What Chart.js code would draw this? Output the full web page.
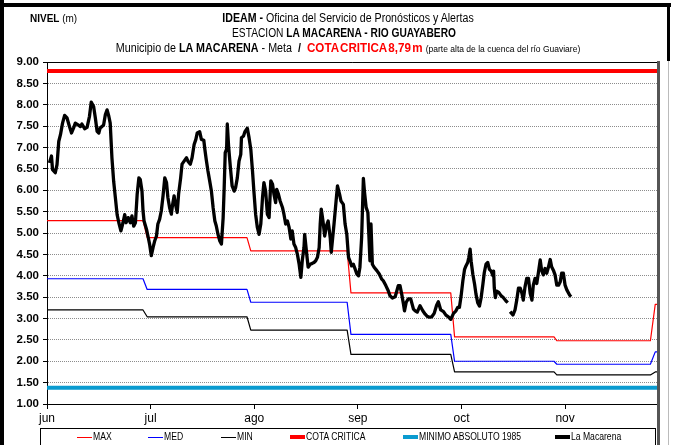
<!DOCTYPE html>
<html>
<head>
<meta charset="utf-8">
<script src="https://cdn.jsdelivr.net/npm/chart.js@4.4.1/dist/chart.umd.min.js"></script>
<style>
  body { margin: 0; background: #fff; }
  #wrap { position: relative; width: 677px; height: 445px; overflow: hidden;
    font-family: "Liberation Sans", Arial, sans-serif; }
  #chartCanvas { position: absolute; left: 0; top: 0; }
  .abs { position: absolute; }
  .ttl { position: absolute; width: 700px; text-align: center; font-size: 12px; line-height: 14px; color: #000; white-space: nowrap; }
  .leg-line { position: absolute; }
  .leg-txt { position: absolute; top: 431px; font-size: 10px; line-height: 12px; white-space: nowrap;
    transform: scaleX(0.86); transform-origin: 0 50%; }
</style>
</head>
<body>
<div id="wrap">
  <canvas id="chartCanvas" width="677" height="445"></canvas>

  <!-- frame -->
  <div class="abs" style="left:0;top:0;width:4px;height:445px;background:#000"></div>
  <div class="abs" style="left:0;top:3px;width:671px;height:4px;background:#000"></div>
  <div class="abs" style="left:667px;top:3px;width:3px;height:58px;background:#000"></div>
  <div class="abs" style="left:668px;top:61px;width:1px;height:384px;background:#bbb"></div>
  <div class="abs" style="left:657px;top:61px;width:3px;height:384px;background:#555"></div>

  <!-- headings -->
  <div class="abs" style="left:30px;top:12px;font-size:10.5px;line-height:12px;transform:scaleX(0.95);transform-origin:0 50%"><b>NIVEL</b> (m)</div>
  <div class="ttl" style="left:-2px;top:11px;transform:scaleX(0.885)"><b>IDEAM -</b> Oficina del Servicio de Pronósticos y Alertas</div>
  <div class="ttl" style="left:-6px;top:26px;transform:scaleX(0.85)">ESTACION <b>LA MACARENA - RIO GUAYABERO</b></div>
  <div class="ttl" style="left:-2px;top:41px;transform:scaleX(0.895)">Municipio de <b>LA MACARENA</b> - Meta&nbsp; <b>/</b>&nbsp; <b style="color:#f00;font-size:13px;word-spacing:-2px">COTA CRITICA 8,79 m</b> <span style="font-size:9.5px">(parte alta de la cuenca del río Guaviare)</span></div>

  <!-- legend -->
  <div class="abs" style="left:40px;top:428px;width:616px;height:30px;border:1px solid #000;box-sizing:border-box"></div>
  <div id="legend"></div>
</div>

<script>
// x unit: days counted from the start of June (30 days per month label)
const months = ['jun', 'jul', 'ago', 'sep', 'oct', 'nov'];
const monthTicks = [0, 30, 60, 90, 120, 150];
const xMax = 176.9;

// monthly reference levels (start / end day of each step)
const stepFrom = [0, 29.0, 59.0, 88.0, 118.0, 147.6, 176.1];
const stepTo = [27.8, 57.9, 86.9, 116.9, 146.8, 174.7, 176.9];
const maxLevel = [5.29, 4.89, 4.58, 3.60, 2.57, 2.48, 3.33];
const medLevel = [3.93, 3.68, 3.38, 2.63, 2.00, 1.93, 2.22];
const minLevel = [3.20, 3.04, 2.73, 2.16, 1.75, 1.68, 1.75];

const cotaCritica = 8.79;
const minimoAbsoluto = 1.38;

// observed level at La Macarena (null = missing reading)
const obsDay = [
  0.7, 1.3, 1.6, 2.4, 2.9, 3.4, 3.9, 4.5, 5.1, 5.8, 6.5, 7.1, 7.7, 8.2, 9.0, 9.7, 10.1, 10.9, 11.6, 12.3,
  12.8, 13.5, 14.0, 14.5, 15.0, 15.4, 15.9, 16.4, 16.9, 17.4, 17.9, 18.3, 18.8, 19.3, 19.8, 20.3, 20.8, 21.4, 22.0, 22.5,
  22.9, 23.5, 24.1, 24.6, 25.1, 25.6, 26.1, 26.6, 27.0, 27.5, 27.8, 28.1, 28.8, 29.3, 29.7, 30.2, 30.7, 31.2, 31.7, 32.1,
  32.6, 33.1, 33.6, 34.1, 34.6, 35.0, 35.5, 36.0, 36.3, 36.8, 37.2, 37.7, 38.1, 38.7, 39.1, 39.7, 40.4, 40.8, 41.5, 42.0,
  42.6, 43.1, 43.5, 44.2, 44.7, 45.4, 45.7, 46.1, 46.6, 47.1, 47.6, 48.1, 48.6, 49.0, 49.5, 50.0, 50.5, 51.0, 51.3, 51.6,
  52.0, 52.2, 52.6, 53.1, 53.6, 54.2, 54.6, 55.1, 55.6, 56.1, 56.3, 56.9, 57.3, 58.0, 58.5, 59.0, 59.5, 59.9, 60.4, 60.9,
  61.4, 61.9, 62.4, 62.8, 63.3, 63.8, 64.3, 64.8, 65.3, 65.7, 66.2, 66.5, 67.0, 67.5, 68.2, 68.6, 69.1, 69.6, 70.1, 70.6,
  71.0, 71.5, 72.0, 72.5, 73.0, 73.5, 73.9, 74.4, 74.6, 75.1, 75.6, 76.2, 76.8, 77.3, 77.8, 78.3, 78.8, 79.1, 79.4, 79.9,
  80.4, 80.9, 81.4, 82.0, 82.3, 83.1, 83.7, 84.1, 84.7, 85.1, 85.8, 86.3, 86.8, 87.3, 87.7, 88.2, 88.7, 89.2, 89.7, 90.2,
  90.6, 91.1, 91.6, 91.9, 92.4, 92.9, 93.2, 93.5, 93.8, 94.2, 94.7, 95.5, 96.2, 96.9, 97.4, 98.1, 98.8, 99.3, 100.0, 100.8,
  101.3, 101.7, 102.2, 102.7, 103.2, 103.5, 104.0, 104.6, 105.3, 106.1, 106.6, 107.2, 108.0, 108.8, 109.5, 110.1, 110.7, 111.4, 112.1, 112.8,
  113.3, 114.0, 114.8, 115.5, 116.2, 116.9, 117.7, 118.4, 118.9, 119.4, 119.9, 120.4, 120.9, 121.3, 121.8, 122.1, 122.5, 122.8, 123.3, 123.8,
  124.2, 124.7, 125.2, 125.7, 126.2, 126.6, 127.1, 127.6, 128.1, 128.6, 129.1, 129.3, 129.5, 129.8, 130.2, 130.8, 131.5, 132.1, 132.9, 133.4,
  133.7, 134.1, 134.9, 135.5, 136.0, 136.5, 137.0, 137.5, 137.9, 138.4, 138.9, 139.4, 139.9, 140.4, 140.8, 141.3, 141.8, 142.3, 142.8, 143.2,
  143.7, 144.2, 144.7, 145.2, 145.7, 146.1, 146.6, 147.1, 147.6, 148.1, 148.6, 149.0, 149.5, 150.0, 150.5, 151.3, 151.7
];
const obsLevel = [
  6.64, 6.80, 6.48, 6.41, 6.60, 7.14, 7.30, 7.57, 7.75, 7.69, 7.49, 7.34, 7.46, 7.57, 7.53, 7.49, 7.55, 7.44, 7.47, 7.73,
  8.06, 7.96, 7.69, 7.38, 7.34, 7.46, 7.49, 7.53, 7.77, 7.88, 7.73, 7.57, 6.76, 6.21, 5.82, 5.43, 5.24, 5.05, 5.24, 5.43,
  5.24, 5.36, 5.24, 5.40, 5.16, 5.24, 5.90, 6.29, 6.25, 5.98, 5.52, 5.28, 5.09, 4.90, 4.74, 4.47, 4.66, 4.82, 4.93, 5.21,
  5.32, 5.52, 5.87, 6.29, 6.18, 5.83, 5.59, 5.44, 5.63, 5.87, 5.67, 5.48, 5.91, 6.29, 6.61, 6.68, 6.76, 6.68, 6.61, 6.76,
  7.07, 7.19, 7.34, 7.37, 7.19, 7.17, 6.96, 6.72, 6.45, 6.22, 5.98, 5.59, 5.28, 5.17, 4.97, 4.82, 4.74, 5.36, 6.06, 6.88,
  6.96, 7.55, 7.00, 6.53, 6.10, 5.98, 6.06, 6.29, 6.68, 6.84, 7.23, 7.27, 7.37, 7.45, 7.23, 6.96, 6.45, 5.98, 5.44, 5.13,
  4.97, 5.21, 5.83, 6.18, 5.98, 5.44, 5.36, 6.22, 6.14, 5.91, 5.71, 6.02, 5.91, 5.75, 5.59, 5.44, 5.21, 5.28, 5.13, 4.86,
  5.05, 4.74, 4.66, 4.50, 4.27, 3.96, 4.35, 4.66, 4.97, 4.58, 4.20, 4.27, 4.29, 4.31, 4.35, 4.43, 4.66, 5.21, 5.56, 5.28,
  4.93, 5.17, 5.28, 4.89, 4.55, 5.21, 5.75, 6.10, 5.91, 5.75, 5.67, 5.21, 4.97, 4.43, 4.35, 4.23, 4.27, 4.16, 4.04, 4.00,
  4.20, 4.90, 6.28, 5.98, 5.60, 5.48, 4.93, 4.35, 5.21, 4.27, 4.20, 4.12, 4.04, 3.92, 3.88, 3.77, 3.65, 3.53, 3.48, 3.51,
  3.65, 3.77, 3.77, 3.57, 3.34, 3.18, 3.38, 3.46, 3.46, 3.22, 3.18, 3.15, 3.30, 3.18, 3.10, 3.05, 3.03, 3.04, 3.12, 3.31,
  3.39, 3.20, 3.16, 3.08, 3.04, 2.98, 3.12, 3.18, 3.26, 3.26, 3.53, 3.88, 4.15, 4.23, 4.31, 4.42, 4.62, 4.34, 4.03, 3.80,
  3.57, 3.37, 3.29, 3.49, 3.80, 4.07, 4.27, 4.31, 4.15, 4.11, 4.00, 4.11, 3.72, 3.49, 3.64, 3.61, 3.53, 3.49, 3.41, 3.37,
  null, 3.16, 3.08, 3.20, 3.43, 3.71, 3.71, 3.59, 3.43, 3.74, 3.94, 3.94, 3.59, 3.43, 3.78, 3.94, 3.82, 4.09, 4.37, 4.13,
  4.02, 4.17, 4.06, 4.21, 4.38, 4.21, 4.13, 4.02, 3.78, 3.78, 3.86, 4.06, 4.06, 3.78, 3.67, 3.55, 3.51
];

const legendItems = [
  { label: 'MAX', color: '#ff0000', width: 1, x: 77 },
  { label: 'MED', color: '#0000ff', width: 1, x: 148 },
  { label: 'MIN', color: '#000000', width: 1, x: 221 },
  { label: 'COTA CRITICA', color: '#ff0000', width: 4, x: 290 },
  { label: 'MINIMO ABSOLUTO 1985', color: '#0a9bd0', width: 4, x: 403 },
  { label: 'La Macarena', color: '#000000', width: 4, x: 555 },
];

// build step series from the monthly levels
function stepPoints(levels) {
  const pts = [];
  levels.forEach((v, i) => {
    pts.push({ x: stepFrom[i], y: v });
    pts.push({ x: stepTo[i], y: v });
  });
  return pts;
}

function flatLine(v) {
  return [{ x: 0, y: v }, { x: xMax, y: v }];
}

const obsPoints = obsDay.map((d, i) => ({ x: d, y: obsLevel[i] }));

function lineSet(label, data, color, width) {
  return {
    label: label,
    data: data,
    borderColor: color,
    backgroundColor: color,
    borderWidth: width,
    pointRadius: 0,
    tension: 0,
    fill: false,
    spanGaps: false,
    borderJoinStyle: 'round',
    borderCapStyle: 'butt',
  };
}

// top edge of the plot area
const framePlugin = {
  id: 'frame',
  afterDraw(chart) {
    const { ctx, chartArea } = chart;
    ctx.save();
    ctx.strokeStyle = '#000';
    ctx.lineWidth = 1;
    ctx.beginPath();
    ctx.moveTo(chartArea.left, chartArea.top + 0.5);
    ctx.lineTo(chartArea.right, chartArea.top + 0.5);
    ctx.stroke();
    ctx.restore();
  },
};

const ctx = document.getElementById('chartCanvas').getContext('2d');
new Chart(ctx, {
  type: 'line',
  data: {
    datasets: [
      lineSet('La Macarena', obsPoints, '#000000', 3.3),
      lineSet('COTA CRITICA', flatLine(cotaCritica), '#ff0000', 4),
      lineSet('MINIMO ABSOLUTO 1985', flatLine(minimoAbsoluto), '#0a9bd0', 4),
      lineSet('MAX', stepPoints(maxLevel), '#ff0000', 1.2),
      lineSet('MED', stepPoints(medLevel), '#0000ff', 1.2),
      lineSet('MIN', stepPoints(minLevel), '#000000', 1.2),
    ],
  },
  plugins: [framePlugin],
  options: {
    responsive: false,
    animation: false,
    layout: { padding: { left: 0, top: 62, right: 19, bottom: 0 } },
    plugins: {
      legend: { display: false },
      tooltip: { enabled: false },
    },
    scales: {
      x: {
        type: 'linear',
        min: 0,
        max: xMax,
        afterBuildTicks: (scale) => {
          scale.ticks = monthTicks.map((v) => ({ value: v }));
        },
        afterFit: (scale) => { scale.height = 41; },
        ticks: {
          autoSkip: false,
          maxRotation: 0,
          padding: 2,
          color: '#000',
          font: { family: '"Liberation Sans", Arial, sans-serif', size: 12 },
          callback: (v) => months[monthTicks.indexOf(v)],
        },
        grid: { drawOnChartArea: false, drawTicks: true, tickLength: 5, tickColor: '#000' },
        border: { display: true, color: '#000', width: 1 },
      },
      y: {
        min: 1,
        max: 9,
        afterFit: (scale) => { scale.width = 47; },
        ticks: {
          stepSize: 0.5,
          padding: 4,
          color: '#000',
          font: { family: '"Liberation Sans", Arial, sans-serif', size: 11.5, weight: 'bold' },
          callback: (v) => v.toFixed(2),
        },
        grid: { color: '#8c8c8c', lineWidth: 1, drawTicks: true, tickLength: 4, tickColor: '#000' },
        border: { display: true, color: '#000', width: 1, dash: [1, 1] },
      },
    },
  },
});

// legend entries
const legendEl = document.getElementById('legend');
legendItems.forEach((item) => {
  const line = document.createElement('div');
  line.className = 'leg-line';
  line.style.left = item.x + 'px';
  line.style.width = '15px';
  line.style.top = (437 - item.width / 2) + 'px';
  line.style.height = item.width + 'px';
  line.style.background = item.color;
  legendEl.appendChild(line);
  const txt = document.createElement('div');
  txt.className = 'leg-txt';
  txt.style.left = (item.x + 16) + 'px';
  txt.textContent = item.label;
  legendEl.appendChild(txt);
});
</script>
</body>
</html>
